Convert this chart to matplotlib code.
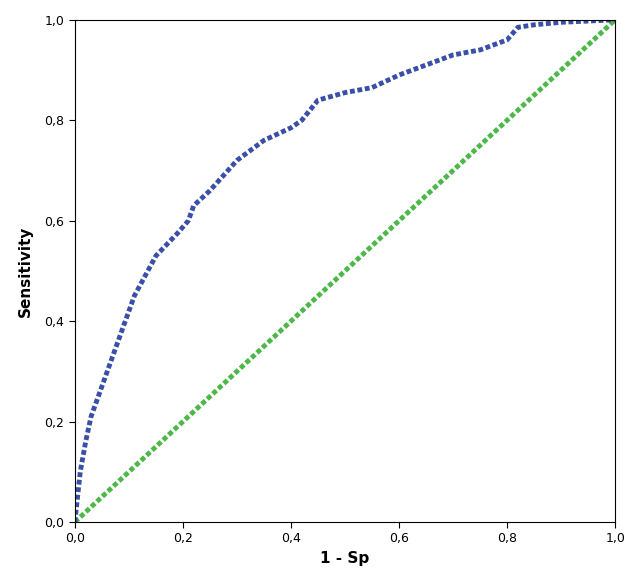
import matplotlib
matplotlib.use("Agg")
import matplotlib.pyplot as plt

fpr = [0, 0.005, 0.01, 0.02, 0.03, 0.05, 0.08, 0.11, 0.15, 0.19, 0.21, 0.22, 0.25, 0.30, 0.35, 0.40, 0.42, 0.45, 0.50, 0.55, 0.60, 0.65, 0.70, 0.75, 0.80, 0.82, 0.85, 0.90, 1.0]
tpr = [0, 0.05, 0.10, 0.16, 0.21, 0.27, 0.36, 0.45, 0.53, 0.575, 0.60, 0.63, 0.66, 0.72, 0.76, 0.785, 0.80, 0.84, 0.855, 0.865, 0.89, 0.91, 0.93, 0.94, 0.96, 0.985, 0.99, 0.995, 1.0]
ref = [0, 1]
ticks = [0, 0.2, 0.4, 0.6, 0.8, 1.0]
tick_labels = ["0,0", "0,2", "0,4", "0,6", "0,8", "1,0"]

fig = plt.figure(figsize=(6.29, 5.82), dpi=100)
ax = fig.add_axes([0.119, 0.103, 0.859, 0.863])
ax.plot(ref, ref, color="#4cb848", lw=3.5, linestyle=(0, (1.0, 0.55)), dash_capstyle="butt")
ax.plot(fpr, tpr, color="#3a50a8", lw=3.5, linestyle=(0, (1.0, 0.55)), dash_capstyle="butt")
ax.set_xlim(0, 1)
ax.set_ylim(0, 1)
ax.set_xticks(ticks, tick_labels)
ax.set_yticks(ticks, tick_labels)
ax.tick_params(labelsize=9, length=4)
ax.set_xlabel("1 - Sp", fontsize=11, fontweight="bold")
ax.set_ylabel("Sensitivity", fontsize=11, fontweight="bold", labelpad=8)
fig.savefig("out.png", dpi=100)
